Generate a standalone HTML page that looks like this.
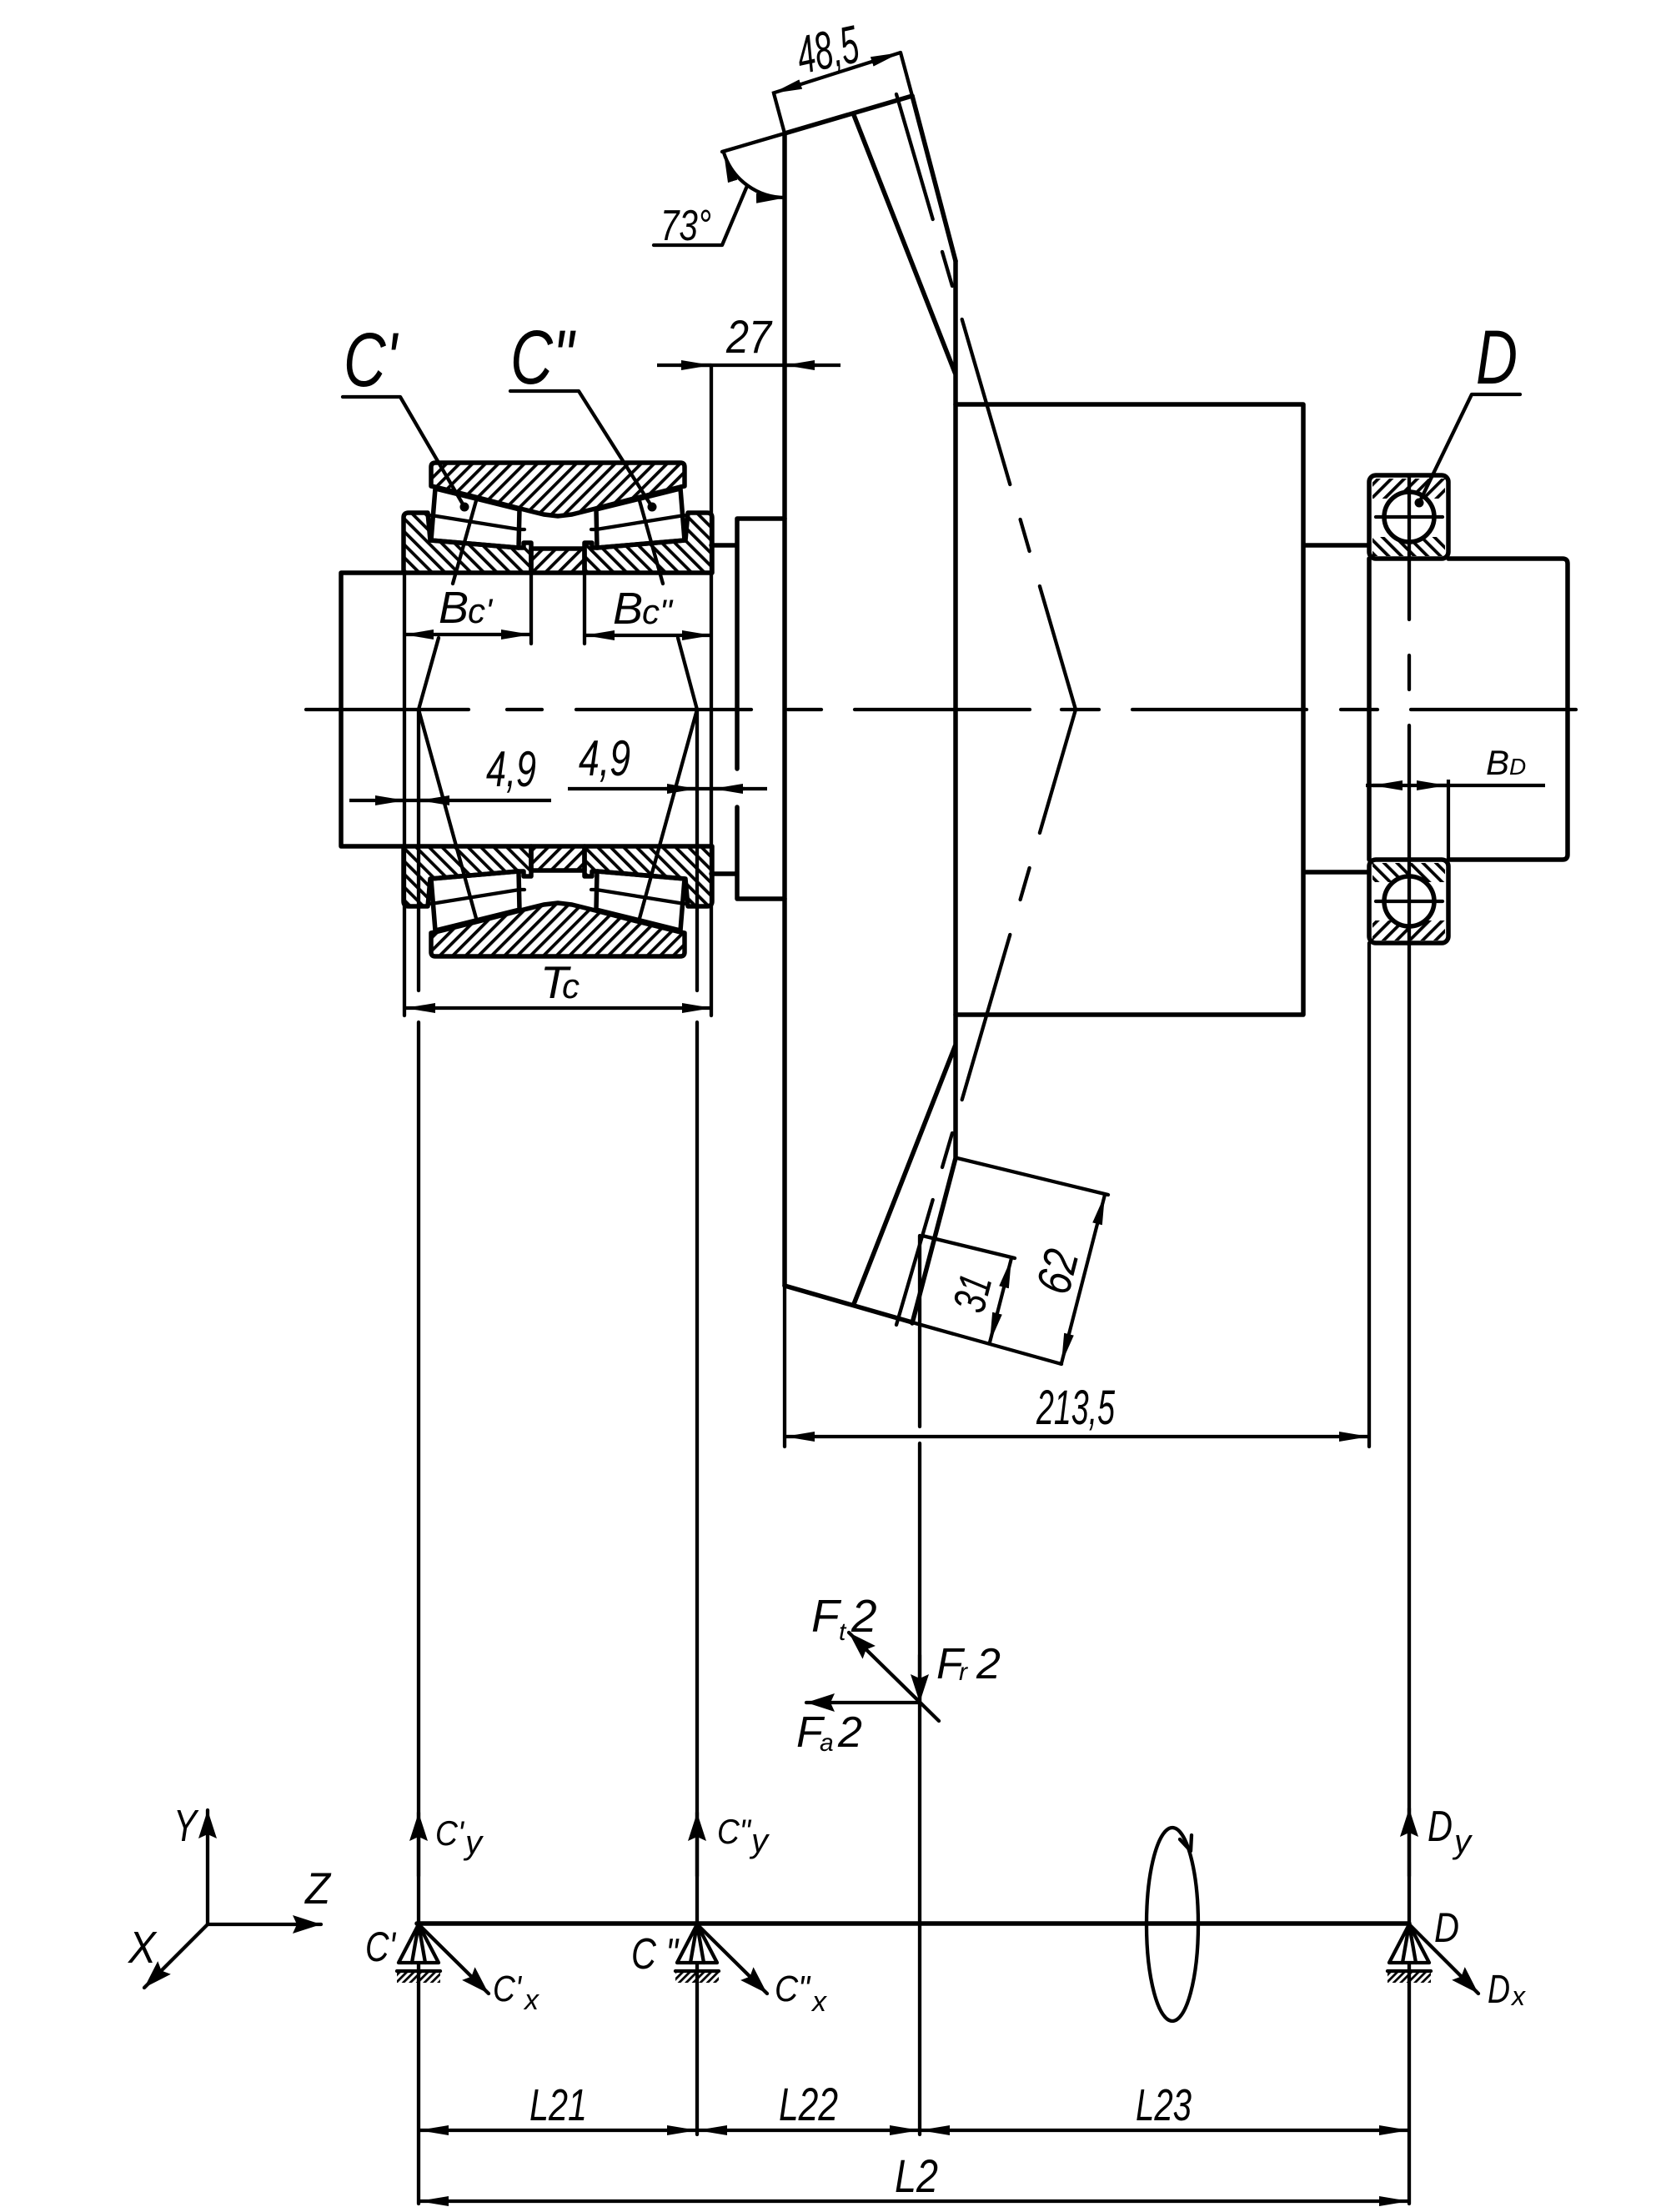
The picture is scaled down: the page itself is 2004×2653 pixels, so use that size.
<!DOCTYPE html>
<html><head><meta charset="utf-8">
<style>
html,body{margin:0;padding:0;background:#fff;}
svg{display:block;}
.s{stroke:#000;stroke-width:5.5;fill:none;stroke-linecap:round;stroke-linejoin:round;}
.t{stroke:#000;stroke-width:4.3;fill:none;stroke-linecap:round;stroke-linejoin:round;}
.d{stroke:#000;stroke-width:4.2;fill:none;stroke-linecap:butt;}
text{font-family:"Liberation Sans",sans-serif;font-style:italic;fill:#000;}
</style></head><body>
<svg width="2004" height="2653" viewBox="0 0 2004 2653">
<defs>
<pattern id="hR" width="11" height="11" patternUnits="userSpaceOnUse" patternTransform="rotate(45)"><rect x="0" y="0" width="3.8" height="11" fill="#000"/></pattern>
<pattern id="hL" width="11" height="11" patternUnits="userSpaceOnUse" patternTransform="rotate(-45)"><rect x="0" y="0" width="3.8" height="11" fill="#000"/></pattern>
<pattern id="hG" width="6" height="6" patternUnits="userSpaceOnUse" patternTransform="rotate(45)"><rect x="0" y="0" width="2.8" height="6" fill="#000"/></pattern>
<marker id="a" viewBox="0 0 36 14" refX="36" refY="7" markerWidth="36" markerHeight="14" markerUnits="userSpaceOnUse" orient="auto-start-reverse"><path d="M0,1 L36,7 L0,13 Z" fill="#000"/></marker>
<marker id="f" viewBox="0 0 34 22" refX="34" refY="11" markerWidth="34" markerHeight="22" markerUnits="userSpaceOnUse" orient="auto-start-reverse"><path d="M0,0 L34,11 L0,22 L5,11 Z" fill="#000"/></marker>
</defs>
<rect x="0" y="0" width="2004" height="2653" fill="#fff"/>

<!-- centre line -->
<path class="t" d="M367,851H562 M608,851H650 M691,851H901 M945,851H985 M1025,851H1235 M1273,851H1318 M1358,851H1567 M1608,851H1652 M1692,851H1890"/>

<!-- left shaft -->
<path class="s" d="M484,687H409V1015H484"/>

<!-- bearing C top half -->
<g>
<path class="s" style="fill:url(#hR)" d="M517,560 Q517,555 522,555 L816,555 Q821,555 821,560 L821,583 L816,584 L764,597 L714,610 L686,617 L669,619 L652,617 L624,610 L574,597 L522,584 L517,583 Z"/>
<path class="s" style="fill:#fff" d="M522,586 L623,611 L622,657 L517,648 Z"/>
<path class="t" d="M517,618 L623,635 L629,635"/>
<path class="s" style="fill:#fff" d="M816,586 L715,611 L716,657 L821,648 Z"/>
<path class="t" d="M821,618 L715,635 L709,635"/>
<path class="s" style="fill:url(#hL)" d="M484,621 Q484,615 490,615 L513,615 L516,648 L622,657 L628,657 L628,651 L637,651 L637,687 L484,687 Z"/>
<path class="s" style="fill:url(#hL)" d="M854,621 Q854,615 848,615 L825,615 L822,648 L716,657 L710,657 L710,651 L701,651 L701,687 L854,687 Z"/>
<rect class="s" style="fill:url(#hR)" x="637" y="658" width="64" height="29"/>
</g>
<!-- bearing C bottom half (mirrored) -->
<g transform="matrix(1,0,0,-1,0,1702)">
<path class="s" style="fill:url(#hL)" d="M517,560 Q517,555 522,555 L816,555 Q821,555 821,560 L821,583 L816,584 L764,597 L714,610 L686,617 L669,619 L652,617 L624,610 L574,597 L522,584 L517,583 Z"/>
<path class="s" style="fill:#fff" d="M522,586 L623,611 L622,657 L517,648 Z"/>
<path class="t" d="M517,618 L623,635 L629,635"/>
<path class="s" style="fill:#fff" d="M816,586 L715,611 L716,657 L821,648 Z"/>
<path class="t" d="M821,618 L715,635 L709,635"/>
<path class="s" style="fill:url(#hR)" d="M484,621 Q484,615 490,615 L513,615 L516,648 L622,657 L628,657 L628,651 L637,651 L637,687 L484,687 Z"/>
<path class="s" style="fill:url(#hR)" d="M854,621 Q854,615 848,615 L825,615 L822,648 L716,657 L710,657 L710,651 L701,651 L701,687 L854,687 Z"/>
<rect class="s" style="fill:url(#hL)" x="637" y="658" width="64" height="29"/>
</g>

<!-- pressure lines -->
<path class="t" d="M502,851L526,765 M543,700L572,597 M502,851L572,1105 M836,851L813,765 M795,700L766,597 M836,851L766,1105"/>
<!-- leaders C' C'' -->
<path class="t" d="M411,476H480L557,608"/>
<circle cx="557" cy="608" r="5.5" fill="#000"/>
<path class="t" d="M612,469H694L782,608"/>
<circle cx="782" cy="608" r="5.5" fill="#000"/>

<!-- verticals around bearing C -->
<path class="t" d="M485,687V1218 M853,438V1218 M637,687V772 M701,687V772"/>
<path class="t" d="M502,851V1188 M502,1226V2643 M836,851V1188 M836,1226V2560"/>

<!-- Bc dims -->
<line class="d" x1="484" y1="761" x2="637" y2="761" marker-start="url(#a)" marker-end="url(#a)"/>
<line class="d" x1="701" y1="762" x2="854" y2="762" marker-start="url(#a)" marker-end="url(#a)"/>
<!-- 4,9 dims -->
<path class="d" d="M419,960H661 M681,946H920"/>
<line class="d" x1="450" y1="960" x2="486" y2="960" marker-end="url(#a)"/>
<line class="d" x1="540" y1="960" x2="503" y2="960" marker-end="url(#a)"/>
<line class="d" x1="798" y1="946" x2="836" y2="946" marker-end="url(#a)"/>
<line class="d" x1="893" y1="946" x2="855" y2="946" marker-end="url(#a)"/>
<!-- Tc -->
<line class="d" x1="486" y1="1209" x2="854" y2="1209" marker-start="url(#a)" marker-end="url(#a)"/>

<!-- ring and hub -->
<path class="s" d="M853,654H884 M884,622H941 M853,1048H884 M884,1078H941 M884,622V922 M884,968V1078"/>

<!-- 27 -->
<path class="d" d="M788,438H1008"/>
<line class="d" x1="815" y1="438" x2="853" y2="438" marker-end="url(#a)"/>
<line class="d" x1="979" y1="438" x2="941" y2="438" marker-end="url(#a)"/>

<!-- gear -->
<path class="s" d="M941,160V1542"/>
<path class="t" d="M941,1542V1735"/>
<path class="t" d="M928,112L941,160 M1080,63L1094,115"/>
<path class="s" d="M1094,115L1146,313"/>
<line class="d" x1="926" y1="112" x2="1080" y2="63" marker-start="url(#a)" marker-end="url(#a)"/>
<path class="t" d="M866,182L941,160"/>
<path class="s" d="M941,160L1094,115"/>
<path class="d" d="M868,183 A77,77 0 0 0 943,237" marker-start="url(#a)" marker-end="url(#a)"/>
<path class="t" d="M896,223L866,294H784"/>
<path class="s" d="M1024,138L1146,449 M1024,1564L1146,1253 M1146,313V1389 M1146,1389L1094,1587"/>
<path class="s" d="M941,1542L1094,1586"/>
<path class="t" d="M1094,1586L1273,1636"/>
<path class="s" d="M1146,485H1563V1217H1146 M1563,654H1642 M1563,1046H1642"/>
<!-- pitch cone dashes -->
<path class="t" d="M1075,113L1118.7,263 M1130,302L1142,343 M1153.7,383L1211.3,581 M1223.6,623L1234.6,661 M1246.9,703L1290,851 L1246.9,999 M1234.6,1041L1223.6,1079 M1211.3,1121L1153.7,1319 M1142,1359L1130,1400 M1118.7,1439L1075,1589"/>
<!-- 31 & 62 -->
<path class="t" d="M1106,1482L1217,1509 M1148,1389L1329,1433"/>
<line class="d" x1="1213" y1="1509" x2="1187" y2="1610" marker-start="url(#a)" marker-end="url(#a)"/>
<line class="d" x1="1325" y1="1433" x2="1273" y2="1635" marker-start="url(#a)" marker-end="url(#a)"/>
<!-- force line -->
<path class="t" d="M1103,1482V1711 M1103,1731V2560"/>
<!-- 213,5 -->
<line class="d" x1="941" y1="1723" x2="1642" y2="1723" marker-start="url(#a)" marker-end="url(#a)"/>
<path class="t" d="M1642,1131V1735"/>

<!-- bearing D -->
<rect class="s" style="fill:#fff" x="1642" y="570" width="95" height="100" rx="8"/>
<rect x="1646" y="574" width="87" height="24" fill="url(#hR)"/>
<rect x="1646" y="644" width="87" height="23" fill="url(#hL)"/>
<circle class="s" style="fill:#fff" cx="1690" cy="620" r="30"/>
<path class="t" d="M1650,620H1730"/>
<rect class="s" style="fill:#fff" x="1642" y="1031" width="95" height="100" rx="8"/>
<rect x="1646" y="1035" width="87" height="23" fill="url(#hL)"/>
<rect x="1646" y="1104" width="87" height="24" fill="url(#hR)"/>
<circle class="s" style="fill:#fff" cx="1690" cy="1081" r="30"/>
<path class="t" d="M1650,1081H1730"/>
<path class="s" d="M1642,670V1031 M1737,670H1874Q1880,670 1880,676V1025Q1880,1031 1874,1031H1737"/>
<path class="t" d="M1690,570V743 M1690,786V827 M1690,870V2643"/>
<path class="t" d="M1702,603L1765,473H1823"/>
<circle cx="1702" cy="603" r="5.5" fill="#000"/>
<!-- Bd -->
<path class="d" d="M1638,942H1853 M1737,935V1031"/>
<line class="d" x1="1682" y1="942" x2="1646" y2="942" marker-end="url(#a)"/>
<line class="d" x1="1699" y1="942" x2="1735" y2="942" marker-end="url(#a)"/>

<!-- bottom scheme -->
<path class="s" d="M500,2307H1690"/>
<!-- axes -->
<line class="t" x1="249" y1="2308" x2="249" y2="2171" marker-end="url(#f)"/>
<line class="t" x1="249" y1="2308" x2="385" y2="2308" marker-end="url(#f)"/>
<line class="t" x1="249" y1="2308" x2="173" y2="2384" marker-end="url(#f)"/>
<!-- supports -->
<g>
<path class="t" style="fill:#fff" d="M502,2308 L478,2354 H526 Z"/>
<path class="t" d="M502,2308L494,2354 M502,2308L510,2354"/>
<rect x="476" y="2364" width="52" height="14" fill="url(#hG)"/>
<path class="t" d="M476,2364H528"/>
<line class="t" x1="502" y1="2250" x2="502" y2="2174" marker-end="url(#f)"/>
<line class="t" x1="502" y1="2308" x2="586" y2="2391" marker-end="url(#f)"/>
</g>
<g>
<path class="t" style="fill:#fff" d="M836,2308 L812,2354 H860 Z"/>
<path class="t" d="M836,2308L828,2354 M836,2308L844,2354"/>
<rect x="810" y="2364" width="52" height="14" fill="url(#hG)"/>
<path class="t" d="M810,2364H862"/>
<line class="t" x1="836" y1="2250" x2="836" y2="2174" marker-end="url(#f)"/>
<line class="t" x1="836" y1="2308" x2="920" y2="2391" marker-end="url(#f)"/>
</g>
<g>
<path class="t" style="fill:#fff" d="M1690,2308 L1666,2354 H1714 Z"/>
<path class="t" d="M1690,2308L1682,2354 M1690,2308L1698,2354"/>
<rect x="1664" y="2364" width="52" height="14" fill="url(#hG)"/>
<path class="t" d="M1664,2364H1716"/>
<line class="t" x1="1690" y1="2250" x2="1690" y2="2169" marker-end="url(#f)"/>
<line class="t" x1="1690" y1="2308" x2="1773" y2="2391" marker-end="url(#f)"/>
</g>
<!-- rotation -->
<ellipse class="t" cx="1406" cy="2308" rx="31" ry="116"/>
<path class="t" d="M1415,2206 L1428,2220 L1429,2201"/>
<!-- forces -->
<line class="t" x1="1103" y1="2042" x2="967" y2="2042" marker-end="url(#f)"/>
<line class="t" x1="1126" y1="2064" x2="1018" y2="1958" marker-end="url(#f)"/>
<line class="t" x1="1103" y1="1985" x2="1103" y2="2042" marker-end="url(#f)"/>
<!-- L dims -->
<line class="d" x1="502" y1="2555" x2="836" y2="2555" marker-start="url(#a)" marker-end="url(#a)"/>
<line class="d" x1="836" y1="2555" x2="1103" y2="2555" marker-start="url(#a)" marker-end="url(#a)"/>
<line class="d" x1="1103" y1="2555" x2="1690" y2="2555" marker-start="url(#a)" marker-end="url(#a)"/>
<line class="d" x1="502" y1="2640" x2="1690" y2="2640" marker-start="url(#a)" marker-end="url(#a)"/>

<!-- TEXT -->
<text transform="translate(997,81) rotate(-12)" text-anchor="middle" font-size="64" textLength="74" lengthAdjust="spacingAndGlyphs">48,5</text>
<text x="792" y="288" font-size="52" textLength="61" lengthAdjust="spacingAndGlyphs">73°</text>
<text x="871" y="423" font-size="56" textLength="54" lengthAdjust="spacingAndGlyphs">27</text>
<text x="412" y="463" font-size="92" textLength="64" lengthAdjust="spacingAndGlyphs">C'</text>
<text x="612" y="460" font-size="92" textLength="76" lengthAdjust="spacingAndGlyphs">C"</text>
<text x="1770" y="460" font-size="92" textLength="50" lengthAdjust="spacingAndGlyphs">D</text>
<text x="526" y="747" font-size="54">B</text><text x="561" y="747" font-size="42">c'</text>
<text x="735" y="748" font-size="54">B</text><text x="770" y="748" font-size="42">c"</text>
<text x="583" y="943" font-size="60" textLength="60" lengthAdjust="spacingAndGlyphs">4,9</text>
<text x="694" y="930" font-size="60" textLength="62" lengthAdjust="spacingAndGlyphs">4,9</text>
<text x="648" y="1197" font-size="55">T</text><text x="674" y="1197" font-size="42">c</text>
<text x="1782" y="929" font-size="42">B</text><text x="1810" y="929" font-size="28">D</text>
<text transform="translate(1166,1551) rotate(-75.6)" y="19" text-anchor="middle" font-size="55" textLength="44" lengthAdjust="spacingAndGlyphs">31</text>
<text transform="translate(1268,1525) rotate(-75.6)" y="20" text-anchor="middle" font-size="58" textLength="52" lengthAdjust="spacingAndGlyphs">62</text>
<text x="1243" y="1708" font-size="58" textLength="94" lengthAdjust="spacingAndGlyphs">213,5</text>

<text x="973" y="1957" font-size="55">F</text><text x="1006" y="1967" font-size="30">t</text><text x="1021" y="1957" font-size="55">2</text>
<text x="1123" y="2013" font-size="52">F</text><text x="1150" y="2015" font-size="30">r</text><text x="1171" y="2013" font-size="52">2</text>
<text x="955" y="2095" font-size="52">F</text><text x="983" y="2100" font-size="30">a</text><text x="1005" y="2095" font-size="52">2</text>

<text x="208" y="2208" font-size="54" textLength="28" lengthAdjust="spacingAndGlyphs">Y</text>
<text x="366" y="2283" font-size="53" textLength="30" lengthAdjust="spacingAndGlyphs">Z</text>
<text x="154" y="2354" font-size="54" textLength="33" lengthAdjust="spacingAndGlyphs">X</text>

<text x="522" y="2213" font-size="42" textLength="34" lengthAdjust="spacingAndGlyphs">C'</text><text x="558" y="2223" font-size="40">y</text>
<text x="860" y="2211" font-size="42" textLength="40" lengthAdjust="spacingAndGlyphs">C"</text><text x="901" y="2221" font-size="40">y</text>
<text x="591" y="2400" font-size="44" textLength="34" lengthAdjust="spacingAndGlyphs">C'</text><text x="629" y="2410" font-size="34">x</text>
<text x="929" y="2400" font-size="44" textLength="42" lengthAdjust="spacingAndGlyphs">C"</text><text x="974" y="2412" font-size="34">x</text>
<text x="438" y="2352" font-size="50" textLength="36" lengthAdjust="spacingAndGlyphs">C'</text>
<text x="757" y="2361" font-size="52" textLength="56" lengthAdjust="spacingAndGlyphs">C "</text>
<text x="1712" y="2208" font-size="52" textLength="30" lengthAdjust="spacingAndGlyphs">D</text><text x="1744" y="2222" font-size="40">y</text>
<text x="1720" y="2329" font-size="50" textLength="30" lengthAdjust="spacingAndGlyphs">D</text>
<text x="1784" y="2402" font-size="48" textLength="27" lengthAdjust="spacingAndGlyphs">D</text><text x="1813" y="2405" font-size="32">x</text>

<text x="635" y="2543" font-size="54" textLength="69" lengthAdjust="spacingAndGlyphs">L21</text>
<text x="934" y="2543" font-size="56" textLength="71" lengthAdjust="spacingAndGlyphs">L22</text>
<text x="1362" y="2543" font-size="54" textLength="67" lengthAdjust="spacingAndGlyphs">L23</text>
<text x="1073" y="2629" font-size="56" textLength="52" lengthAdjust="spacingAndGlyphs">L2</text>
</svg>
</body></html>
